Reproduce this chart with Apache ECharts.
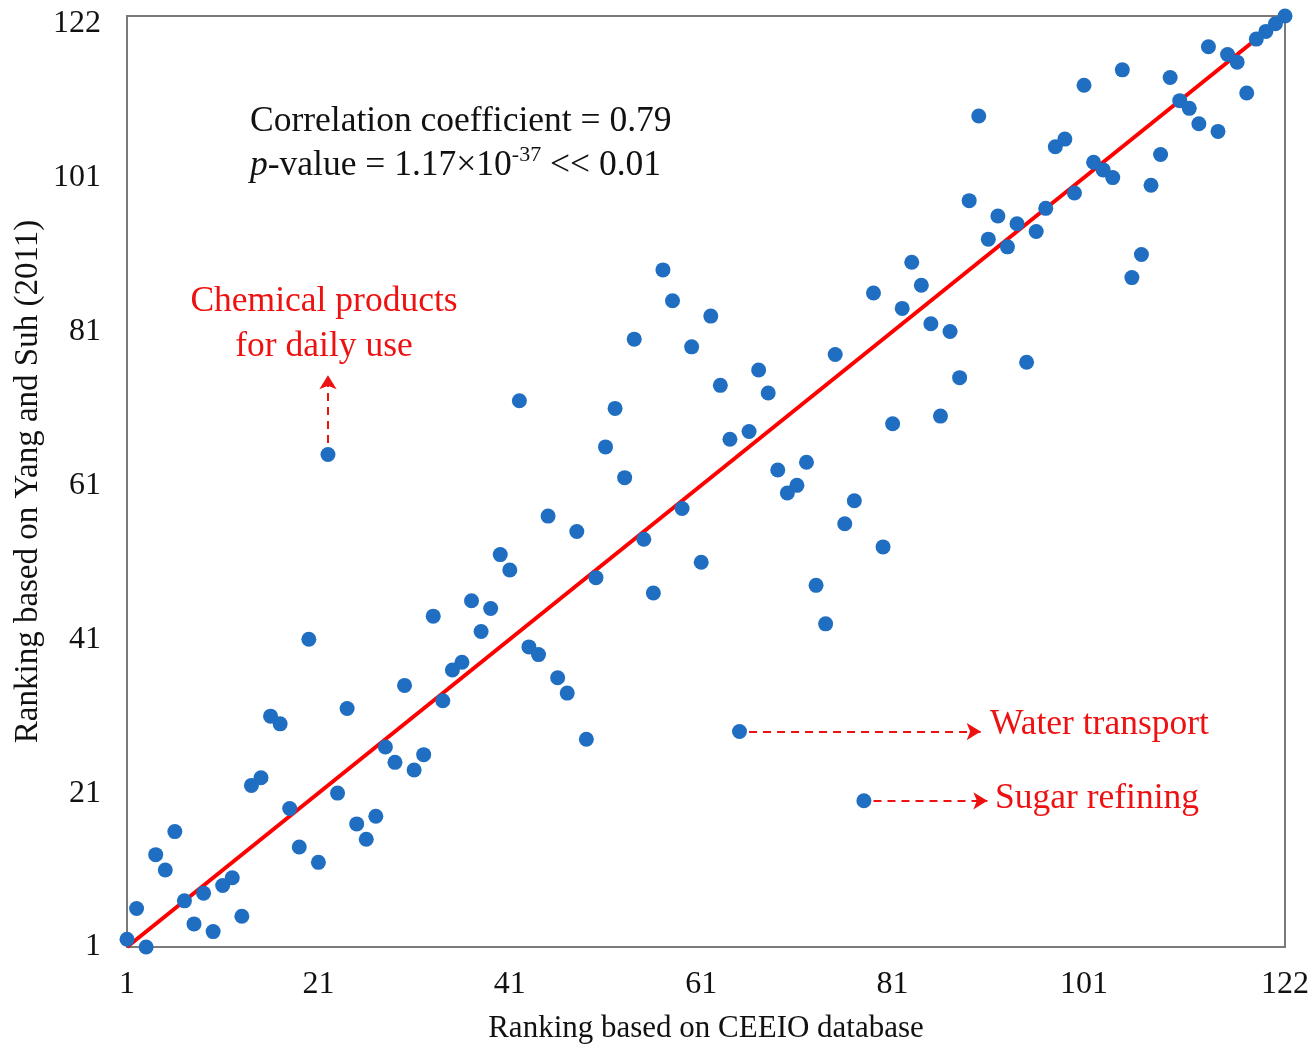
<!DOCTYPE html>
<html>
<head>
<meta charset="utf-8">
<title>Ranking comparison</title>
<script src="https://cdn.jsdelivr.net/npm/echarts@6/dist/echarts.min.js"></script>
<style>
  html, body { margin: 0; padding: 0; background: #fff; }
  #rank-chart { width: 1310px; height: 1048px; }
</style>
</head>
<body>
<div id="rank-chart"></div>
<script>
// x: ranking based on CEEIO database
var ceeioRank = [
    1, 2, 3, 4, 5, 6, 7, 8, 9, 10,
    11, 12, 13, 14, 15, 16, 17, 18, 19, 20,
    21, 22, 23, 24, 25, 26, 27, 28, 29, 30,
    31, 32, 33, 34, 35, 36, 37, 38, 39, 40,
    41, 42, 43, 44, 45, 46, 47, 48, 49, 50,
    51, 52, 53, 54, 55, 56, 57, 58, 59, 60,
    61, 62, 63, 64, 65, 66, 67, 68, 69, 70,
    71, 72, 73, 74, 75, 76, 77, 78, 79, 80,
    81, 82, 83, 84, 85, 86, 87, 88, 89, 90,
    91, 92, 93, 94, 95, 96, 97, 98, 99, 100,
    101, 102, 103, 104, 105, 106, 107, 108, 109, 110,
    111, 112, 113, 114, 115, 116, 117, 118, 119, 120,
    121, 122
];
// y: ranking based on Yang and Suh (2011)
var yangSuhRank = [
    2, 6, 1, 13, 11, 16, 7, 4, 8, 3,
    9, 10, 5, 22, 23, 31, 30, 19, 14, 41,
    12, 65, 21, 32, 17, 15, 18, 27, 25, 35,
    24, 26, 44, 33, 37, 38, 46, 42, 45, 52,
    50, 72, 40, 39, 57, 36, 34, 55, 28, 49,
    66, 71, 62, 80, 54, 47, 89, 85, 58, 79,
    51, 83, 74, 67, 29, 68, 76, 73, 63, 60,
    61, 64, 48, 43, 78, 56, 59, 20, 86, 53,
    69, 84, 90, 87, 82, 70, 81, 75, 98, 109,
    93, 96, 92, 95, 77, 94, 97, 105, 106, 99,
    113, 103, 102, 101, 115, 88, 91, 100, 104, 114,
    111, 110, 108, 118, 107, 117, 116, 112, 119, 120,
    121, 122
];
// tick labels on both axes
var tickLabels = [1, 21, 41, 61, 81, 101, 122];
// fitted line end points
var fitLine = [[1, 1], [122, 122]];
// annotation arrows [from, to]
var chemArrow = [[22, 66.5], [22, 75.3]];
var waterArrow = [[66, 29], [90.2, 29]];
var sugarArrow = [[79, 20], [90.9, 20]];

var axisMin = 1;
var axisMax = 122;

function myChart() {
    var c = echarts.init(document.getElementById("rank-chart"));
    var pts = [];
    for (var i = 0; i < ceeioRank.length; i++) {
        pts.push([ceeioRank[i], yangSuhRank[i]]);
    }
    var serif = "'Liberation Serif', 'Times New Roman', serif";
    var red = '#EE1111';

    function arrowLine(a) {
        return [{ coord: a[0] }, { coord: a[1] }];
    }

    var option = {
        animation: false,
        backgroundColor: '#fff',
        grid: {
            left: 127,
            right: 25,
            top: 16,
            bottom: 101,
            outerBoundsMode: 'none',
            show: true,
            borderColor: '#7a7a7a',
            borderWidth: 2
        },
        xAxis: {
            type: 'value',
            min: axisMin,
            max: axisMax,
            name: 'Ranking based on CEEIO database',
            nameLocation: 'middle',
            nameGap: 66,
            nameTextStyle: { fontFamily: serif, fontSize: 31, color: '#111' },
            axisLine: { show: false },
            axisTick: { show: false },
            splitLine: { show: false },
            axisLabel: {
                customValues: tickLabels,
                fontFamily: serif, fontSize: 32, color: '#111', margin: 22
            }
        },
        yAxis: {
            type: 'value',
            min: axisMin,
            max: axisMax,
            name: 'Ranking based on Yang and Suh (2011)',
            nameLocation: 'middle',
            nameGap: 82,
            nameMoveOverlap: false,
            nameTextStyle: { fontFamily: serif, fontSize: 33, color: '#111' },
            axisLine: { show: false },
            axisTick: { show: false },
            splitLine: { show: false },
            axisLabel: {
                customValues: tickLabels,
                fontFamily: serif, fontSize: 32, color: '#111', margin: 26,
                // top label sits a little lower than its tick in the original
                formatter: function (v) {
                    return v === axisMax ? '{top|' + v + '}' : String(v);
                },
                rich: {
                    top: { fontFamily: serif, fontSize: 32, color: '#111', padding: [16, 0, 0, 0] }
                }
            }
        },
        series: [{
            type: 'line',
            data: fitLine,
            symbol: 'none',
            z: 2,
            lineStyle: { color: '#FF0000', width: 4 }
        }, {
            type: 'scatter',
            data: pts,
            symbolSize: 15,
            z: 3,
            itemStyle: { color: '#1F6EC1', opacity: 1 },
            markLine: {
                silent: true,
                symbol: ['none', 'arrow'],
                symbolSize: [13, 14],
                label: { show: false },
                lineStyle: { color: red, width: 2, type: [8, 6] },
                data: [arrowLine(chemArrow), arrowLine(waterArrow), arrowLine(sugarArrow)]
            }
        }],
        graphic: [{
            type: 'text',
            left: 250,
            top: 100,
            style: {
                text: 'Correlation coefficient = 0.79\n{i|p}-value = 1.17×10{sup|-37} << 0.01',
                fontFamily: serif,
                fontSize: 35.5,
                lineHeight: 44,
                fill: '#111',
                rich: {
                    i: { fontFamily: serif, fontSize: 35.5, fontStyle: 'italic', fill: '#111' },
                    sup: { fontFamily: serif, fontSize: 22, fill: '#111', verticalAlign: 'top', lineHeight: 44 }
                }
            }
        }, {
            type: 'text',
            x: 324,
            y: 324,
            style: {
                text: 'Chemical products\nfor daily use',
                fontFamily: serif,
                fontSize: 35.5,
                lineHeight: 45,
                fill: red,
                align: 'center',
                verticalAlign: 'middle'
            }
        }, {
            type: 'text',
            x: 990,
            y: 725,
            style: {
                text: 'Water transport',
                fontFamily: serif,
                fontSize: 35.5,
                fill: red,
                align: 'left',
                verticalAlign: 'middle'
            }
        }, {
            type: 'text',
            x: 995,
            y: 799,
            style: {
                text: 'Sugar refining',
                fontFamily: serif,
                fontSize: 35.5,
                fill: red,
                align: 'left',
                verticalAlign: 'middle'
            }
        }]
    };
    c.setOption(option);
    window.addEventListener("resize", function () {
        c.resize();
    });
}
myChart();
</script>
</body>
</html>
